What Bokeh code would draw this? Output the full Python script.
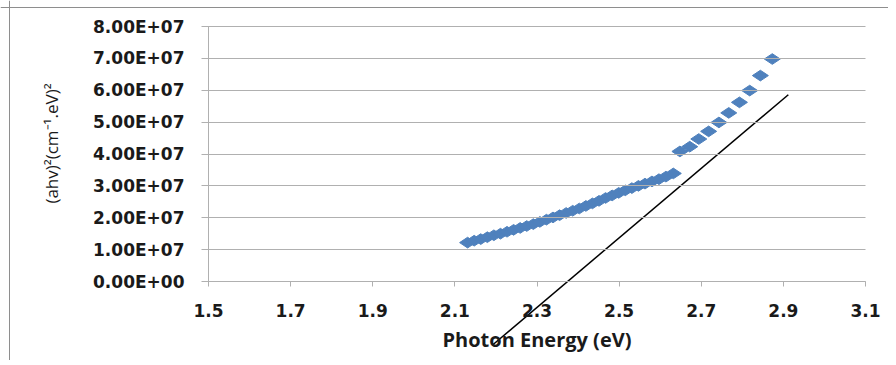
import math
from bokeh.plotting import figure
from bokeh.models import FixedTicker, Range1d, LinearAxis, Span
from bokeh.embed import file_html
from bokeh.resources import INLINE

# ---- data ----
energy_low = [2.131, 2.147, 2.163, 2.179, 2.195, 2.211, 2.227, 2.243, 2.259, 2.275,
              2.291, 2.307, 2.323, 2.339, 2.355, 2.371, 2.387, 2.403, 2.419, 2.435,
              2.451, 2.467, 2.483, 2.499, 2.515, 2.531, 2.547, 2.563, 2.580, 2.597,
              2.614, 2.632]
alpha_low = [1.22e7, 1.28e7, 1.33e7, 1.39e7, 1.45e7, 1.50e7, 1.56e7, 1.62e7, 1.68e7, 1.74e7,
             1.80e7, 1.87e7, 1.94e7, 2.01e7, 2.08e7, 2.15e7, 2.22e7, 2.29e7, 2.37e7, 2.45e7,
             2.53e7, 2.62e7, 2.70e7, 2.78e7, 2.86e7, 2.93e7, 3.00e7, 3.07e7, 3.14e7, 3.21e7,
             3.29e7, 3.39e7]
energy_high = [2.648, 2.672, 2.694, 2.718, 2.743, 2.767, 2.793, 2.818, 2.844, 2.873]
alpha_high = [4.08e7, 4.23e7, 4.47e7, 4.71e7, 4.99e7, 5.29e7, 5.62e7, 5.99e7, 6.46e7, 6.98e7]

fit_x = [2.191, 2.912]
fit_y = [-2.0e7, 5.86e7]

x_ticks = [1.5, 1.7, 1.9, 2.1, 2.3, 2.5, 2.7, 2.9, 3.1]
x_tick_labels = ["1.5", "1.7", "1.9", "2.1", "2.3", "2.5", "2.7", "2.9", "3.1"]
y_ticks = [0, 10000000, 20000000, 30000000, 40000000, 50000000, 60000000, 70000000, 80000000]
y_tick_labels = ["0.00E+00", "1.00E+07", "2.00E+07", "3.00E+07", "4.00E+07",
                 "5.00E+07", "6.00E+07", "7.00E+07", "8.00E+07"]

x_title = "Photon Energy (eV)"
y_title = "(ahv)\u00b2(cm\u207b\u00b9.eV)\u00b2"

# ---- layout (pixels on the canvas) ----
W, H = 888, 360
X0_PX, X1_PX = 208, 865      # where x = 1.5 and x = 3.1 fall
Y0_PX, Y1_PX = 281, 26       # where y = 0 and y = 8e7 fall (from top)
YT_PX = 143                  # vertical centre of the y title
BORDER_X, BORDER_Y = 9, 7    # chart-area border, left and top
x_lo, x_hi = x_ticks[0], x_ticks[-1]
y_lo, y_hi = y_ticks[0], y_ticks[-1]
sx = (X1_PX - X0_PX) / (x_hi - x_lo)
sy = (Y0_PX - Y1_PX) / (y_hi - y_lo)
x_range = Range1d(x_lo - X0_PX / sx, x_hi + (W - X1_PX) / sx)
y_range = Range1d(y_lo - (H - Y0_PX) / sy, y_hi + Y1_PX / sy)
yt_mid = (Y0_PX - YT_PX) / sy
yt_half = 0.2 * (y_hi - y_lo)

p = figure(width=W, height=H, output_backend="svg", toolbar_location=None,
           x_range=x_range, y_range=y_range, min_border=0,
           x_axis_location=None, y_axis_location=None)
p.outline_line_color = None
p.background_fill_color = "white"
p.border_fill_color = "white"
p.grid.visible = False

GRID = "#b0b0b0"
TXT = "#1a1a1a"

# x axis fixed at y = 0
xa = LinearAxis(fixed_location=0, bounds=(x_lo, x_hi), ticker=FixedTicker(ticks=x_ticks))
xa.major_label_overrides = {t: l for t, l in zip(x_ticks, x_tick_labels)}
xa.axis_line_color = GRID
xa.major_tick_line_color = GRID
xa.major_tick_in = 0
xa.major_tick_out = 5
xa.minor_tick_line_color = None
xa.major_label_standoff = 17
xa.major_label_text_font = "DejaVu Sans"
xa.major_label_text_font_style = "bold"
xa.major_label_text_font_size = "17px"
xa.major_label_text_color = TXT
xa.axis_label = x_title
xa.axis_label_standoff = 6
xa.axis_label_text_font = "Open Sans"
xa.axis_label_text_font_style = "bold"
xa.axis_label_text_font_size = "20px"
xa.axis_label_text_color = TXT
p.add_layout(xa, "below")

# y axis fixed at x = 1.5; its inward ticks draw the horizontal gridlines
ya = LinearAxis(fixed_location=x_lo, bounds=(y_lo, y_hi), ticker=FixedTicker(ticks=y_ticks))
ya.major_label_overrides = {t: l for t, l in zip(y_ticks, y_tick_labels)}
ya.axis_line_color = GRID
ya.major_tick_line_color = GRID
ya.major_tick_in = X1_PX - X0_PX
ya.major_tick_out = 7
ya.minor_tick_line_color = None
ya.major_label_standoff = 17
ya.major_label_text_font = "DejaVu Sans"
ya.major_label_text_font_style = "bold"
ya.major_label_text_font_size = "17px"
ya.major_label_text_color = TXT
p.add_layout(ya, "left")

# y title carried by a bare axis so that it can sit a little above centre
yt = LinearAxis(fixed_location=x_lo, bounds=(yt_mid - yt_half, yt_mid + yt_half),
                ticker=FixedTicker(ticks=[]))
yt.axis_line_color = None
yt.major_tick_line_color = None
yt.minor_tick_line_color = None
yt.axis_label = y_title
yt.axis_label_standoff = 146
yt.axis_label_text_font = "Open Sans"
yt.axis_label_text_font_style = "normal"
yt.axis_label_text_font_size = "17px"
yt.axis_label_text_color = TXT
p.add_layout(yt, "left")

# chart-area border (left and top edges)
p.add_layout(Span(location=x_lo - (X0_PX - BORDER_X) / sx, dimension="height",
                  line_color="#8e8e8e", line_width=1))
p.add_layout(Span(location=y_hi + (Y1_PX - BORDER_Y) / sy, dimension="width",
                  line_color="#8e8e8e", line_width=1))

# fitted line
p.line(fit_x, fit_y, line_color="black", line_width=1.5)

# data
p.scatter(energy_low, alpha_low, marker="diamond", angle=math.pi / 2, size=16,
          fill_color="#4f81bd", line_color="#4f81bd")
p.scatter(energy_high, alpha_high, marker="diamond", angle=math.pi / 2, size=16,
          fill_color="#4f81bd", line_color="#4f81bd")

open("out.html", "w").write(file_html(p, INLINE))
